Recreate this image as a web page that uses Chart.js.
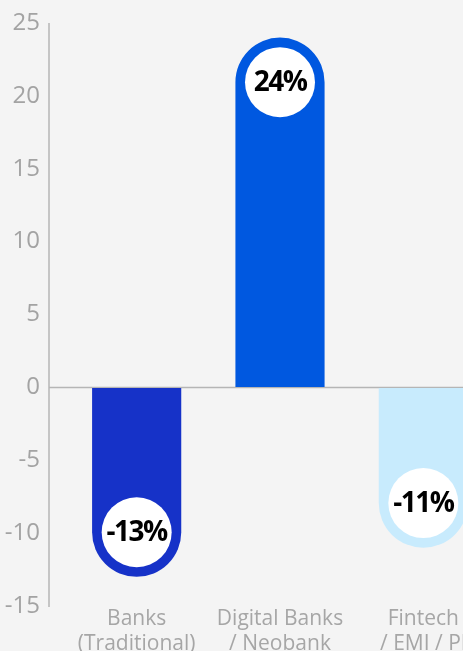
<!DOCTYPE html>
<html>
<head>
<meta charset="utf-8">
<script src="https://cdn.jsdelivr.net/npm/chart.js@4.4.0/dist/chart.umd.min.js"></script>
<style>
  html, body { margin: 0; padding: 0; background: #f4f4f4; overflow: hidden; }
  #wrap { width: 463px; height: 651px; overflow: hidden; position: relative; }
  canvas { display: block; }
</style>
</head>
<body>
<div id="wrap"><canvas id="myChart" width="495" height="651"></canvas></div>
<script>
// data
const categories = [["Banks", "(Traditional)"], ["Digital Banks", "/ Neobank"], ["Fintech", "/ EMI / PI"]];
const changePct = [-13, 24, -11];
const barColors = ['#1632c8', '#0058e0', '#c8ebfd'];
const yMin = -15;
const yMax = 25;
const yStep = 5;

// y axis line sits left of the plot area, zero line runs across
const axisLines = {
  id: 'axisLines',
  beforeDatasetsDraw(chart) {
    const { ctx, chartArea, scales: { y } } = chart;
    const axisX = chartArea.left - 16;
    const zeroY = Math.round(y.getPixelForValue(0)) + 0.5;
    ctx.save();
    ctx.strokeStyle = '#b5b5b5';
    ctx.lineWidth = 1.5;
    ctx.beginPath();
    ctx.moveTo(axisX, chartArea.top);
    ctx.lineTo(axisX, chartArea.bottom + 1);
    ctx.moveTo(axisX, zeroY);
    ctx.lineTo(chart.width, zeroY);
    ctx.stroke();
    ctx.restore();
  }
};

// white bubbles with the % value inside the rounded end of each bar
const bubbleLabels = {
  id: 'bubbleLabels',
  afterDatasetsDraw(chart) {
    const { ctx } = chart;
    const meta = chart.getDatasetMeta(0);
    meta.data.forEach((bar, i) => {
      const v = changePct[i];
      const half = bar.width / 2;
      const cy = v >= 0 ? bar.y + half : bar.y - half;
      ctx.save();
      ctx.fillStyle = '#ffffff';
      ctx.beginPath();
      ctx.arc(bar.x, cy, 35, 0, Math.PI * 2);
      ctx.fill();
      ctx.fillStyle = '#000000';
      ctx.font = 'bold 28px "Open Sans"';
      ctx.letterSpacing = '-1.5px';
      ctx.textAlign = 'center';
      ctx.textBaseline = 'middle';
      ctx.fillText(v + '%', bar.x, cy + 1);
      ctx.restore();
    });
  }
};

var config = {
  type: 'bar',
  data: {
    labels: categories,
    datasets: [{
      data: changePct,
      backgroundColor: barColors,
      borderWidth: 0,
      borderRadius: 60,
      borderSkipped: 'start',
      categoryPercentage: 1,
      barPercentage: 0.622
    }]
  },
  options: {
    responsive: false,
    animation: false,
    layout: { padding: { top: 23, right: 0, bottom: 0, left: 0 } },
    plugins: {
      legend: { display: false },
      tooltip: { enabled: false }
    },
    scales: {
      x: {
        offset: true,
        grid: { display: false, drawTicks: false },
        border: { display: false },
        ticks: {
          color: '#a6a6a6',
          font: { family: 'Open Sans', size: 21 },
          padding: 0,
          maxRotation: 0,
          autoSkip: false
        },
        afterFit(scale) { scale.height = 45; }
      },
      y: {
        min: yMin,
        max: yMax,
        // invisible tick marks only to push labels away from the plot
        grid: { display: true, drawOnChartArea: false, drawTicks: true, tickLength: 17, color: 'rgba(0,0,0,0)' },
        border: { display: false },
        ticks: {
          stepSize: yStep,
          color: '#a3a3a3',
          font: { family: 'Open Sans', size: 24 },
          padding: 8
        },
        afterFit(scale) { scale.width = 65; }
      }
    }
  },
  plugins: [axisLines, bubbleLabels]
};

var myChart = new Chart(document.getElementById('myChart'), config);
</script>
</body>
</html>
